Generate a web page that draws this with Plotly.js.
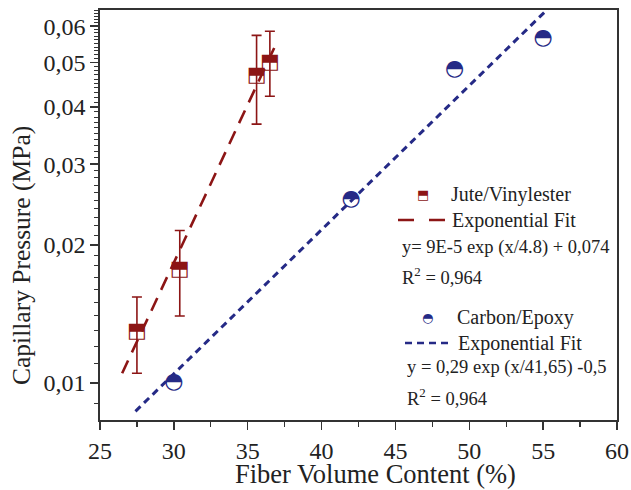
<!DOCTYPE html>
<html>
<head>
<meta charset="utf-8">
<script src="https://cdn.plot.ly/plotly-3.0.1.min.js"></script>
<style>html,body{margin:0;padding:0;background:#fff;}#chart{width:631px;height:490px;}</style>
</head>
<body>
<div id="chart"></div>
<script>
// ---- data ----
var juteX = [27.5, 30.4, 35.6, 36.5];
var juteY = [0.0129, 0.0177, 0.0468, 0.0500];
var juteErrHigh = [0.0154, 0.0215, 0.0573, 0.0585];
var juteErrLow = [0.0105, 0.0140, 0.0367, 0.0422];

var carbonX = [30, 42, 49, 55];
var carbonY = [0.0100, 0.0251, 0.0484, 0.0563];

var juteFitX = [26.5, 37.0];
var juteFitY = [0.0105, 0.0556];
var carbonFitX = [27.4, 55.6];
var carbonFitY = [0.00867, 0.0668];

var xTickVals = [25, 30, 35, 40, 45, 50, 55, 60];
var yTickVals = [0.01, 0.02, 0.03, 0.04, 0.05, 0.06];

var RED = '#8c1515';
var BLUE = '#252a86';
var FONT = 'Liberation Serif, Times New Roman, serif';

// minor ticks for the log y axis
var yMinor = [];
for (var v = 9; v <= 65; v++) { yMinor.push(v / 1000); }

var juteUp = juteErrHigh.map(function (h, i) { return h - juteY[i]; });
var juteDn = juteErrLow.map(function (l, i) { return juteY[i] - l; });

var traces = [
  {x: juteFitX, y: juteFitY, mode: 'lines', line: {color: RED, width: 2.6, dash: '14px,9px'}, showlegend: false, hoverinfo: 'skip'},
  {x: carbonFitX, y: carbonFitY, mode: 'lines', line: {color: BLUE, width: 3, dash: '7px,5px'}, showlegend: false, hoverinfo: 'skip'},
  {x: juteX, y: juteY, mode: 'markers', marker: {size: 1, color: 'rgba(0,0,0,0)'},
   error_y: {type: 'data', symmetric: false, array: juteUp, arrayminus: juteDn, color: RED, thickness: 1.6, width: 5},
   showlegend: false},
  {x: juteX, y: juteY, mode: 'text', text: juteX.map(function () { return '\u2B12'; }),
   textposition: 'middle center', textfont: {size: 21, color: RED, family: 'DejaVu Sans'}, showlegend: false},
  {x: carbonX, y: carbonY, mode: 'text', text: carbonX.map(function () { return '\u25D3'; }),
   textposition: 'middle center', textfont: {size: 22, color: BLUE, family: 'DejaVu Sans'}, showlegend: false}
];

var PL = 100, PR = 617, PT = 10, PB = 420;
function px(x) { return (x - PL) / (PR - PL); }
function py(y) { return (PB - y) / (PB - PT); }
function note(x, y, text, opts) {
  var a = {xref: 'paper', yref: 'paper', x: px(x), y: py(y), text: text, showarrow: false,
           xanchor: 'left', yanchor: 'middle', font: {family: FONT, size: 20, color: '#222'}};
  for (var k in (opts || {})) a[k] = opts[k];
  return a;
}

var annotations = [
  // axis titles
  note(375, 474, 'Fiber Volume Content (%)', {xanchor: 'center', font: {family: FONT, size: 26.5, color: '#222'}}),
  note(21, 256, 'Capillary Pressure (MPa)', {xanchor: 'center', textangle: -90, font: {family: FONT, size: 25.5, color: '#222'}}),
  // legend blocks
  note(423, 195, '\u2B12', {xanchor: 'center', font: {family: 'DejaVu Sans', size: 13, color: RED}}),
  note(449, 195, 'Jute/Vinylester'),
  note(450, 220, 'Exponential Fit'),
  note(400, 247, 'y= 9E-5 exp (x/4.8) + 0,074', {font: {family: FONT, size: 18.5, color: '#222'}}),
  note(400, 276, 'R<sup>2</sup> = 0,964', {font: {family: FONT, size: 18.5, color: '#222'}}),
  note(427, 317, '\u25D3', {xanchor: 'center', font: {family: 'DejaVu Sans', size: 13, color: BLUE}}),
  note(455, 317, 'Carbon/Epoxy'),
  note(456, 343, 'Exponential Fit'),
  note(405, 367, 'y = 0,29 exp (x/41,65) -0,5', {font: {family: FONT, size: 18.5, color: '#222'}}),
  note(405, 397, 'R<sup>2</sup> = 0,964', {font: {family: FONT, size: 18.5, color: '#222'}})
];

var shapes = [
  {type: 'line', xref: 'paper', yref: 'paper', x0: px(398), x1: px(446), y0: py(220), y1: py(220),
   line: {color: RED, width: 2.6, dash: '16px,15px'}},
  {type: 'line', xref: 'paper', yref: 'paper', x0: px(405), x1: px(451), y0: py(343), y1: py(343),
   line: {color: BLUE, width: 2.6, dash: '7px,5px'}}
];

var layout = {
  width: 631, height: 490,
  margin: {l: PL, r: 631 - PR, t: PT, b: 490 - PB},
  paper_bgcolor: '#fff', plot_bgcolor: '#fff',
  separators: ',.',
  font: {family: FONT, color: '#222'},
  showlegend: false,
  xaxis: {
    range: [25, 60], tickmode: 'array', tickvals: xTickVals,
    showgrid: false, zeroline: false, showline: true, mirror: true,
    linecolor: '#333', linewidth: 1.8,
    ticks: 'outside', ticklen: 8, tickwidth: 1.5, tickcolor: '#333',
    minor: {dtick: 2.5, ticks: 'outside', ticklen: 5, tickwidth: 1.2, tickcolor: '#333', showgrid: false},
    tickfont: {family: FONT, size: 24, color: '#222'}
  },
  yaxis: {
    type: 'log', range: [Math.log10(0.0083), Math.log10(0.0651)],
    tickmode: 'array', tickvals: yTickVals, tickformat: '.2f',
    showgrid: false, zeroline: false, showline: true, mirror: true,
    linecolor: '#333', linewidth: 1.8,
    ticks: 'outside', ticklen: 8, tickwidth: 1.5, tickcolor: '#333',
    minor: {tickmode: 'array', tickvals: yMinor, ticks: 'outside', ticklen: 4, tickwidth: 1, tickcolor: '#333', showgrid: false},
    tickfont: {family: FONT, size: 24, color: '#222'}
  },
  annotations: annotations,
  shapes: shapes
};

Plotly.newPlot('chart', traces, layout, {staticPlot: true});
</script>
</body>
</html>
